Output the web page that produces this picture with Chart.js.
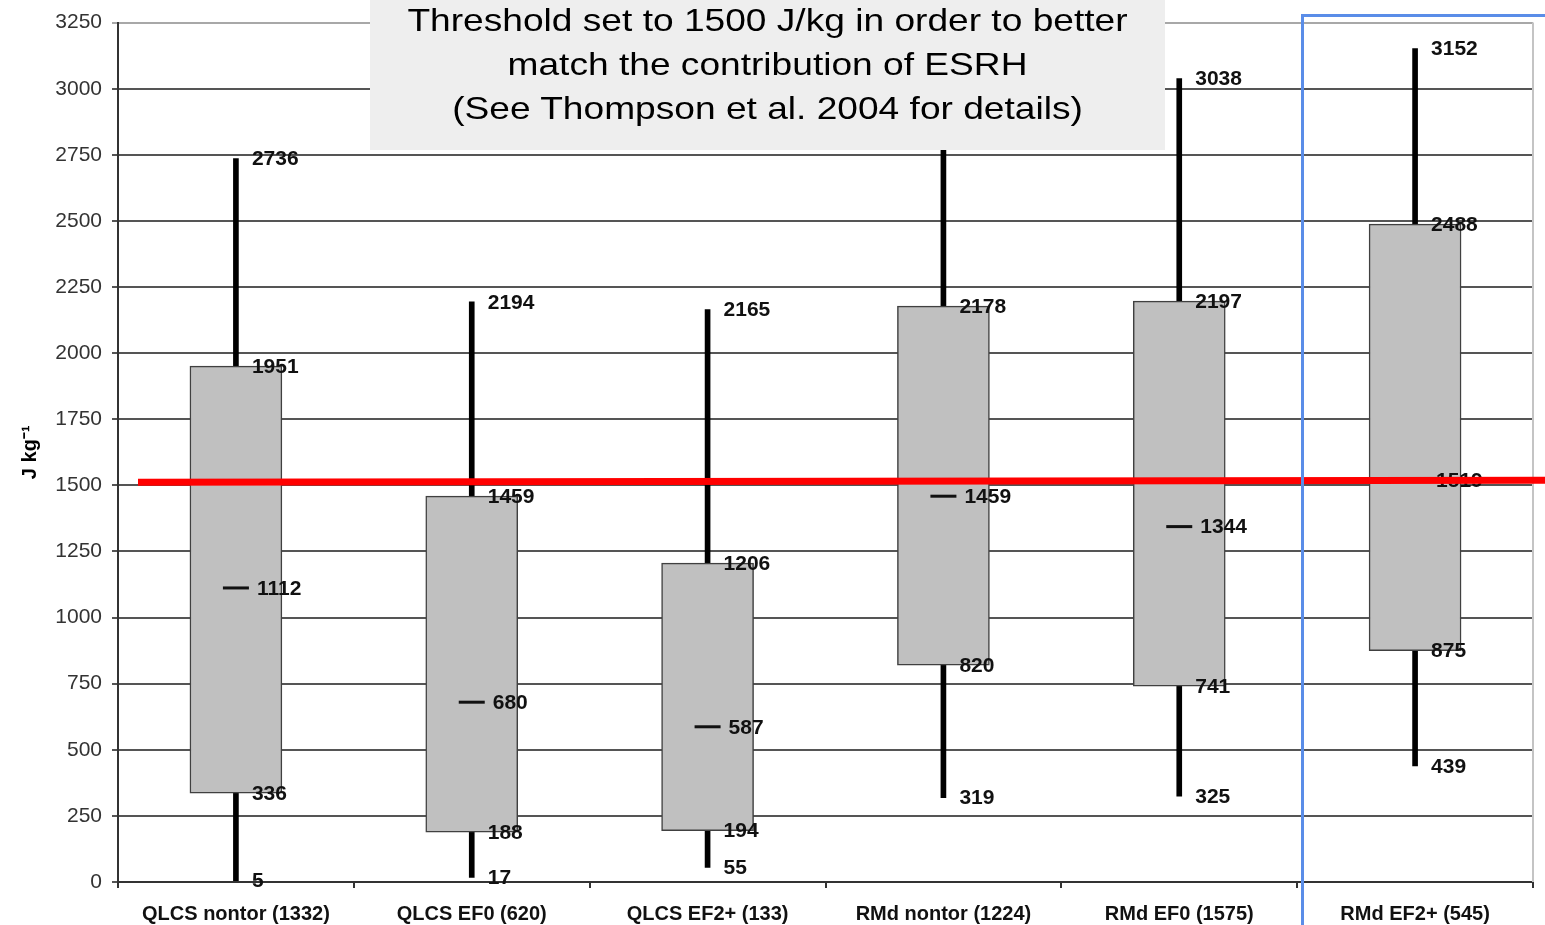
<!DOCTYPE html>
<html>
<head>
<meta charset="utf-8">
<script src="https://cdn.jsdelivr.net/npm/chart.js@4.4.1/dist/chart.umd.min.js"></script>
<style>
    html, body { margin: 0; padding: 0; background: #fff; }
    #wrap { position: relative; width: 1545px; height: 925px; overflow: hidden; }
    #note {
        position: absolute; left: 370px; top: 0; width: 795px; height: 150px;
        background: #eeeeee; color: #000; text-align: center;
        font-family: 'Liberation Sans', Arial, sans-serif; font-size: 32px; line-height: 44px;
    }
    #note div { position: relative; top: -2px; transform: scaleX(1.16); transform-origin: center; }
    #frame {
        position: absolute; left: 1301px; top: 14px; width: 260px; height: 960px;
        border: 3px solid #5a8de8;
    }
</style>
</head>
<body>
<div id="wrap">
    <canvas id="boxChart" width="1545" height="925"></canvas>
    <div id="note"><div>Threshold set to 1500 J/kg in order to better<br>match the contribution of ESRH<br>(See Thompson et al. 2004 for details)</div></div>
    <div id="frame"></div>
</div>
<script>
const categories = ['QLCS nontor (1332)', 'QLCS EF0 (620)', 'QLCS EF2+ (133)', 'RMd nontor (1224)', 'RMd EF0 (1575)', 'RMd EF2+ (545)'];
const minVals = [5, 17, 55, 319, 325, 439];
const q1Vals = [336, 188, 194, 820, 741, 875];
const medianVals = [1112, 680, 587, 1459, 1344, 1519];
const q3Vals = [1951, 1459, 1206, 2178, 2197, 2488];
const maxVals = [2736, 2194, 2165, 2950, 3038, 3152];
const threshold = 1512;

const labelFont = "bold 21px 'Liberation Sans', Arial, sans-serif";

// whiskers, medians and value labels drawn on top of the bars
const boxExtras = {
    id: 'boxExtras',
    afterDatasetsDraw(chart) {
        const ctx = chart.ctx;
        const x = chart.scales.x;
        const y = chart.scales.y;
        ctx.save();
        ctx.font = labelFont;
        ctx.fillStyle = '#111';
        ctx.textBaseline = 'middle';
        ctx.textAlign = 'left';
        categories.forEach((c, i) => {
            const cx = x.getPixelForValue(i);
            // median dash
            const my = y.getPixelForValue(medianVals[i]);
            ctx.fillRect(cx - 13, my - 1.5, 26, 3);
            ctx.fillText(String(medianVals[i]), cx + 21, my + 1);
            [maxVals[i], q3Vals[i], q1Vals[i], minVals[i]].forEach(v => {
                ctx.fillText(String(v), cx + 16, y.getPixelForValue(v) + 1);
            });
        });
        // plot area right border
        const a = chart.chartArea;
        ctx.strokeStyle = '#c4c4c4';
        ctx.lineWidth = 2;
        ctx.beginPath();
        ctx.moveTo(a.right, a.top);
        ctx.lineTo(a.right, a.bottom);
        ctx.stroke();
        ctx.restore();
    },
    afterDraw(chart) {
        const ctx = chart.ctx;
        const a = chart.chartArea;
        const ty = chart.scales.y.getPixelForValue(threshold);
        ctx.save();
        ctx.strokeStyle = '#ff0000';
        ctx.lineWidth = 7;
        ctx.beginPath();
        ctx.moveTo(a.left + 20, ty);
        ctx.lineTo(chart.width, ty - 2);
        ctx.stroke();
        ctx.restore();
    }
};

const ctx = document.getElementById('boxChart').getContext('2d');
new Chart(ctx, {
    type: 'bar',
    data: {
        labels: categories,
        datasets: [{
            label: 'box',
            data: categories.map((c, i) => [q1Vals[i], q3Vals[i]]),
            backgroundColor: '#c0c0c0',
            borderColor: '#404040',
            borderWidth: 1.5,
            borderSkipped: false,
            barThickness: 92,
            grouped: false,
            order: 1
        }, {
            label: 'whisker',
            data: categories.map((c, i) => [minVals[i], maxVals[i]]),
            backgroundColor: '#000',
            barThickness: 5,
            grouped: false,
            order: 2
        }]
    },
    options: {
        responsive: false,
        animation: false,
        layout: { padding: { top: 20, right: 12, left: 0, bottom: 0 } },
        plugins: {
            legend: { display: false },
            tooltip: { enabled: false }
        },
        scales: {
            x: {
                offset: true,
                grid: { drawOnChartArea: false, offset: true, tickLength: 6, color: '#333', lineWidth: 2 },
                border: { color: '#333', width: 2 },
                ticks: {
                    color: '#111',
                    padding: 14,
                    maxRotation: 0,
                    font: { family: "'Liberation Sans', Arial, sans-serif", size: 20, weight: 'bold' }
                },
                afterFit(scale) { scale.height = 43; }
            },
            y: {
                min: 0,
                max: 3250,
                ticks: {
                    stepSize: 250,
                    color: '#333',
                    padding: 10,
                    callback: v => String(v),
                    font: { family: "'Liberation Sans', Arial, sans-serif", size: 21 }
                },
                grid: {
                    tickLength: 6,
                    lineWidth: 2,
                    color: c => c.tick && c.tick.value === 3250 ? '#a8a8a8' : '#555'
                },
                border: { color: '#333', width: 2 },
                title: {
                    display: true,
                    text: 'J kg⁻¹',
                    color: '#000',
                    padding: { top: 18, bottom: 0 },
                    font: { family: "'Liberation Sans', Arial, sans-serif", size: 20, weight: 'bold' }
                },
                afterFit(scale) { scale.width = 118; }
            }
        }
    },
    plugins: [boxExtras]
});
</script>
</body>
</html>
